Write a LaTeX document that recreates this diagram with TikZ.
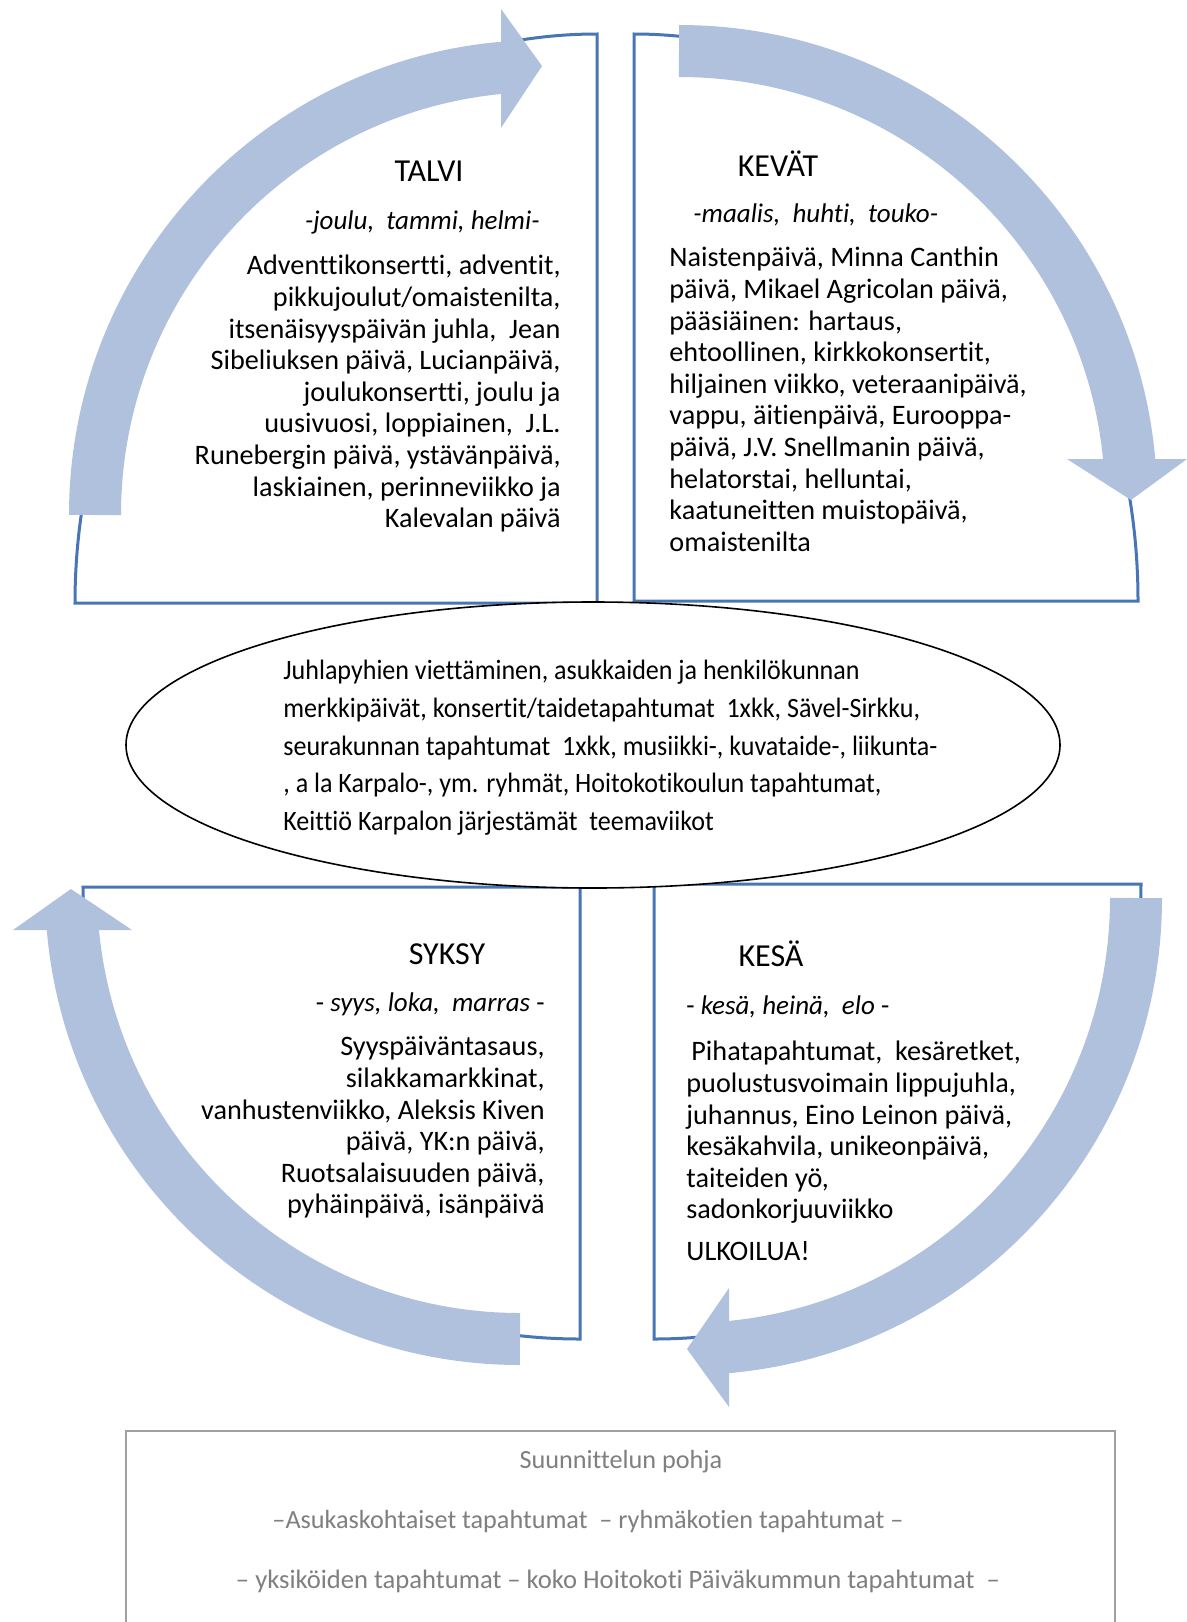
\documentclass[tikz,border=0pt]{standalone}
\usepackage{fontspec}
\setmainfont{Carlito}[Ligatures=NoCommon]
\newfontfamily\ellfamily{Carlito}[Ligatures=NoCommon, FakeStretch=0.93]
\definecolor{arrowc}{RGB}{176,193,221}
\definecolor{boxc}{RGB}{72,117,180}
\definecolor{greyt}{RGB}{127,127,127}
\definecolor{greyb}{RGB}{160,160,160}
\newcommand\bodyfont{\fontsize{14.1}{15.8}\selectfont}
\newcommand\subfont{\fontsize{13.5}{15.8}\selectfont}
\newcommand\titlefont{\fontsize{16}{19}\selectfont}
\newcommand\ellfont{\ellfamily\fontsize{14}{18.8}\selectfont}
\newcommand\basefont{\fontsize{13.1}{15}\selectfont}
\begin{document}
\begin{tikzpicture}[x=0.5pt,y=-0.5pt,
  seasonbox/.style={draw=boxc, line width=1.5pt, line join=miter},
  arrowbody/.style={draw=arrowc, line width=26pt, line cap=butt},
  arrowhead/.style={fill=arrowc},
  bodytext/.style={inner sep=0pt, font=\bodyfont},
  titletext/.style={inner sep=0pt, font=\titlefont},
  subtext/.style={inner sep=0pt, font=\subfont},
  elltext/.style={inner sep=0pt, font=\ellfont, align=left},
  basetext/.style={inner sep=0pt, font=\basefont, text=greyt}]
\useasboundingbox[fill=white] (0,0) rectangle (1187,1622);
\clip (0,0) rectangle (1187,1622);

% season boxes (quarter ellipses)
\draw[seasonbox] (75,603) arc[start angle=180, end angle=270, x radius=522, y radius=569] -- (597,603) -- cycle;
\draw[seasonbox] (634,601) -- (634,34) arc[start angle=270, end angle=360, x radius=504, y radius=567] -- cycle;
\draw[seasonbox] (580,887) -- (83,887) arc[start angle=180, end angle=90, x radius=497, y radius=452] -- cycle;
\draw[seasonbox] (654,884) -- (1141,884) arc[start angle=0, end angle=90, x radius=487, y radius=455] -- cycle;

% curved block arrows
\draw[arrowbody] (95,515) arc[start angle=180, end angle=267, x radius=447, y radius=449];
\fill[arrowhead] (501,9) -- (542,66) -- (501,128) -- cycle;
\draw[arrowbody] (679,51) arc[start angle=270, end angle=357, x radius=452, y radius=449];
\fill[arrowhead] (1067,459) -- (1131,500) -- (1187,459) -- cycle;
\draw[arrowbody] (1136,898) arc[start angle=0, end angle=87, x radius=449, y radius=451];
\fill[arrowhead] (729,1288) -- (687,1349) -- (729,1407) -- cycle;
\draw[arrowbody] (520,1339) arc[start angle=90, end angle=177, x radius=449, y radius=450];
\fill[arrowhead] (13,930) -- (71,889) -- (132,930) -- cycle;

% central ellipse
\draw[fill=white, line width=0.8pt] (593,745) ellipse[x radius=467, y radius=143];

% TALVI
\node[titletext, anchor=base] (talvi) at (429,181) {TALVI};
\node[subtext, anchor=base east] (talvim) at (540,229) {\itshape -joulu,\ \ tammi, helmi-};
\node[bodytext, anchor=north east, align=right] (talvib) at (561,255) {Adventtikonsertti, adventit,\\
pikkujoulut/omaistenilta,\\
itsenäisyyspäivän juhla,\ \ Jean\\
Sibeliuksen päivä, Lucianpäivä,\\
joulukonsertti, joulu ja\\
uusivuosi, loppiainen,\ \ J.L.\\
Runebergin päivä, ystävänpäivä,\\
laskiainen, perinneviikko ja\\
Kalevalan päivä};

% KEVAT
\node[titletext, anchor=base] (kevat) at (778,176) {KEVÄT};
\node[subtext, anchor=base west] (kevatm) at (693,222) {\itshape -maalis,\ \ huhti,\ \ touko-};
\node[bodytext, anchor=north west, align=left] (kevatb) at (669,247) {Naistenpäivä, Minna Canthin\\
päivä, Mikael Agricolan päivä,\\
pääsiäinen: hartaus,\\
ehtoollinen, kirkkokonsertit,\\
hiljainen viikko, veteraanipäivä,\\
vappu, äitienpäivä, Eurooppa-\\
päivä, J.V. Snellmanin päivä,\\
helatorstai, helluntai,\\
kaatuneitten muistopäivä,\\
omaistenilta};

% SYKSY
\node[titletext, anchor=base] (syksy) at (447,964) {SYKSY};
\node[subtext, anchor=base east] (syksym) at (545,1011) {- \textit{syys, loka,\ \ marras} -};
\node[bodytext, anchor=north east, align=right] (syksyb) at (545,1036) {Syyspäiväntasaus,\\
silakkamarkkinat,\\
vanhustenviikko, Aleksis Kiven\\
päivä, YK:n päivä,\\
Ruotsalaisuuden päivä,\\
pyhäinpäivä, isänpäivä};

% KESA
\node[titletext, anchor=base] (kesa) at (771,966) {KESÄ};
\node[subtext, anchor=base west] (kesam) at (686,1014) {- \textit{kesä, heinä,\ \ elo} -};
\node[bodytext, anchor=north west, align=left] (kesab) at (686,1041) {\hspace{2.5pt}Pihatapahtumat,\ \ kesäretket,\\
puolustusvoimain lippujuhla,\\
juhannus, Eino Leinon päivä,\\
kesäkahvila, unikeonpäivä,\\
taiteiden yö,\\
sadonkorjuuviikko};
\node[bodytext, anchor=base west] (ulko) at (686,1260) {ULKOILUA!};

% ellipse text
\node[elltext, anchor=north west] (celltext) at (283,660) {Juhlapyhien viettäminen, asukkaiden ja henkilökunnan\\
merkkipäivät, konsertit/taidetapahtumat\ \ 1xkk, Sävel-Sirkku,\\
seurakunnan tapahtumat\ \ 1xkk, musiikki-, kuvataide-, liikunta-\\
, a la Karpalo-, ym. ryhmät, Hoitokotikoulun tapahtumat,\\
Keittiö Karpalon järjestämät\ \ teemaviikot};

% planning base box
\draw[greyb, line width=0.8pt] (126,1640) -- (126,1431) -- (1115,1431) -- (1115,1640);
\node[basetext, anchor=base] (pohja) at (621,1468) {Suunnittelun pohja};
\node[basetext, anchor=base] (pohja2) at (588,1528) {–Asukaskohtaiset tapahtumat\ \ – ryhmäkotien tapahtumat –};
\node[basetext, anchor=base, font=\fontsize{13.3}{15}\selectfont] (pohja3) at (618,1588) {– yksiköiden tapahtumat – koko Hoitokoti Päiväkummun tapahtumat\ \ –};
\end{tikzpicture}
\end{document}
